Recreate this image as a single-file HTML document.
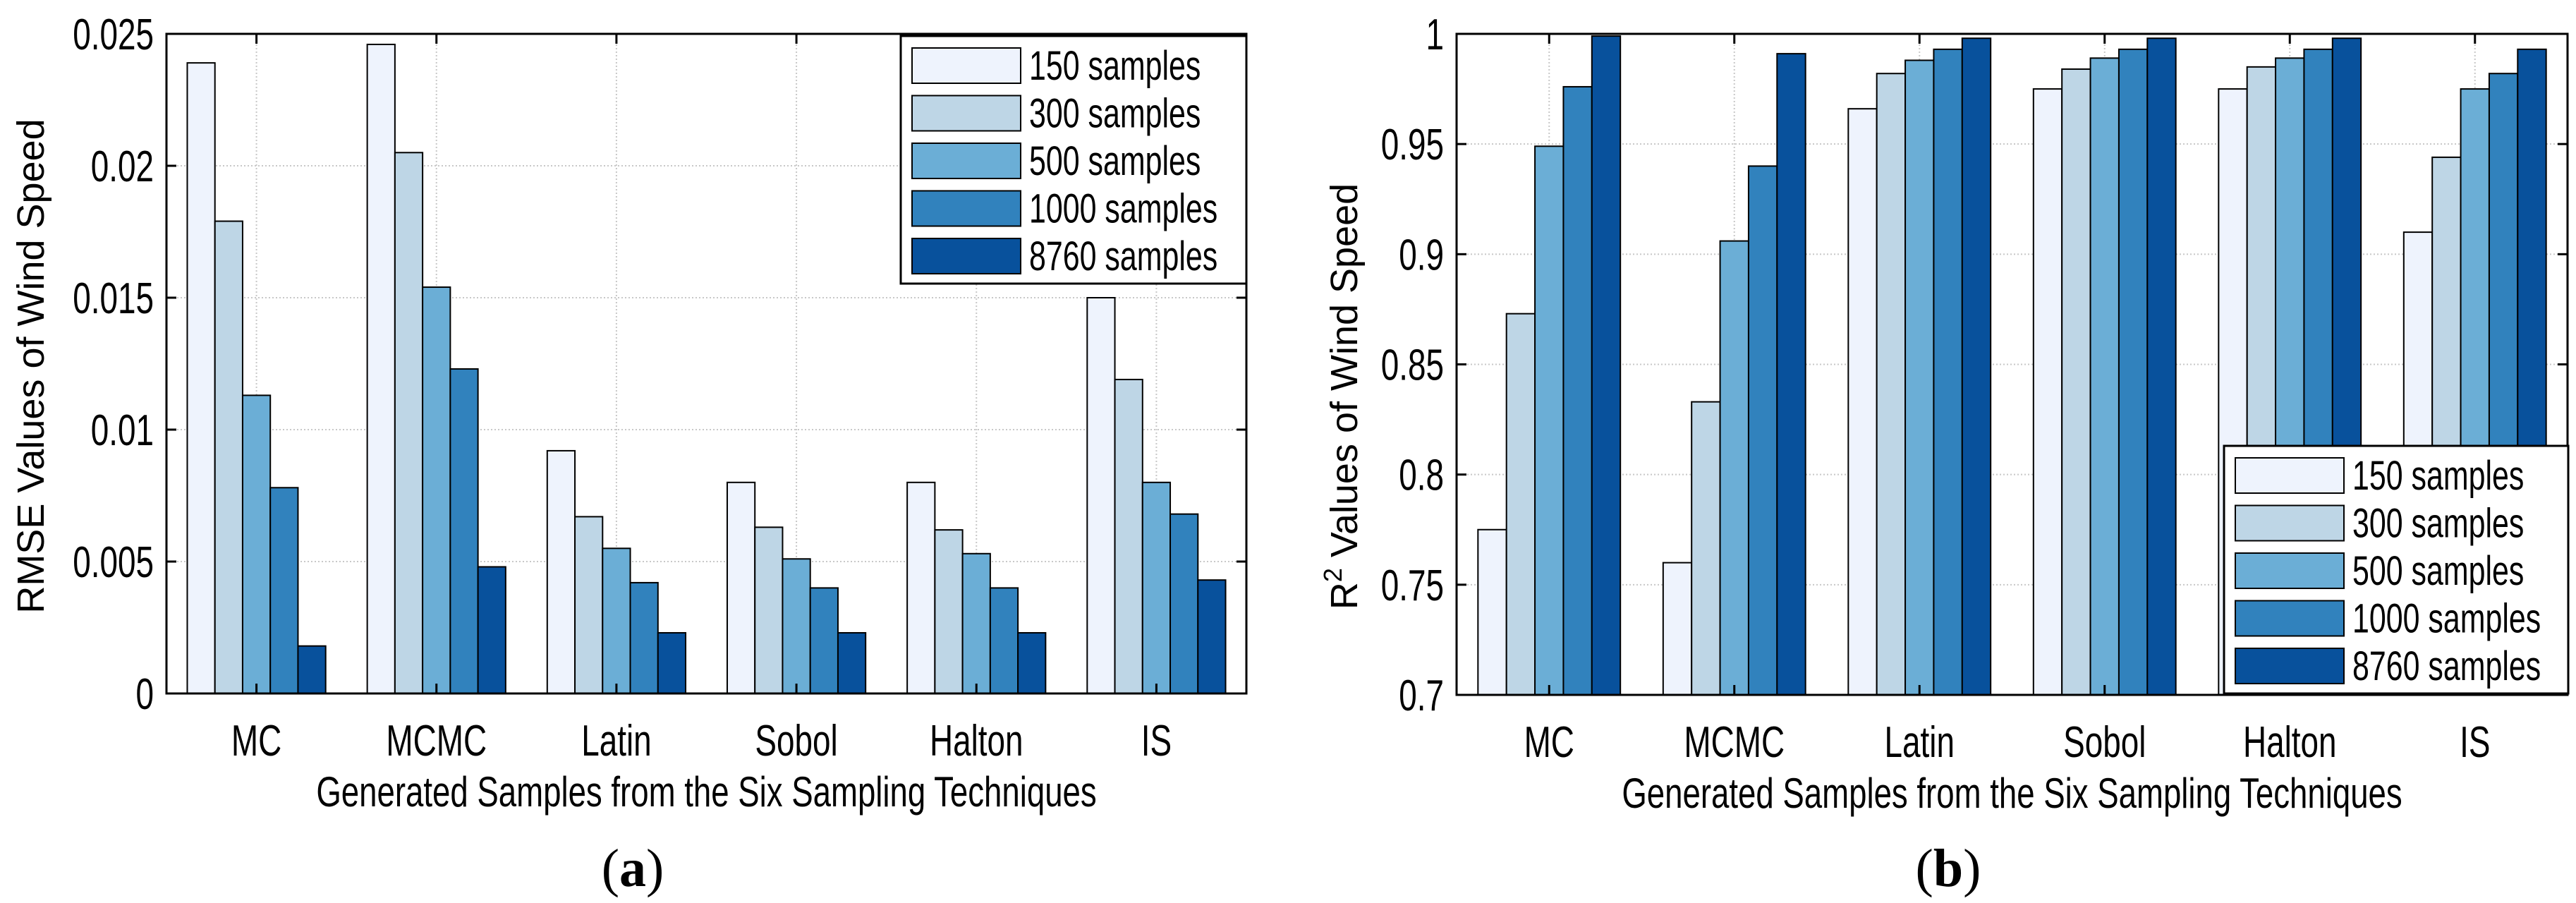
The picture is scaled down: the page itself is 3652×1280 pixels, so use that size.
<!DOCTYPE html>
<html><head><meta charset="utf-8"><style>
html,body{margin:0;padding:0;background:#fff}
svg{display:block}
text{font-family:"Liberation Sans",Arial,sans-serif;fill:#000}
</style></head><body>
<svg id="fig" width="3652" height="1280" viewBox="0 0 3652 1280" xmlns="http://www.w3.org/2000/svg">
<rect width="3652" height="1280" fill="#fff"/>
</svg>
<script>
const categories = ["MC","MCMC","Latin","Sobol","Halton","IS"];
const seriesNames = ["150 samples","300 samples","500 samples","1000 samples","8760 samples"];
const colors = ["#eef3fd","#bed6e6","#6baed6","#3182bd","#08519c"];
const rmse150 = [0.0239,0.0246,0.0092,0.0080,0.0080,0.0150];
const rmse300 = [0.0179,0.0205,0.0067,0.0063,0.0062,0.0119];
const rmse500 = [0.0113,0.0154,0.0055,0.0051,0.0053,0.0080];
const rmse1000 = [0.0078,0.0123,0.0042,0.0040,0.0040,0.0068];
const rmse8760 = [0.0018,0.0048,0.0023,0.0023,0.0023,0.0043];
const r2_150 = [0.775,0.760,0.966,0.975,0.975,0.910];
const r2_300 = [0.873,0.833,0.982,0.984,0.985,0.944];
const r2_500 = [0.949,0.906,0.988,0.989,0.989,0.975];
const r2_1000 = [0.976,0.940,0.993,0.993,0.993,0.982];
const r2_8760 = [0.999,0.991,0.998,0.998,0.998,0.993];
const rmseTicks = [0,0.005,0.01,0.015,0.02,0.025];
const rmseTickLabels = ["0","0.005","0.01","0.015","0.02","0.025"];
const r2Ticks = [0.7,0.75,0.8,0.85,0.9,0.95,1];
const r2TickLabels = ["0.7","0.75","0.8","0.85","0.9","0.95","1"];

const NS="http://www.w3.org/2000/svg";
const svg=document.getElementById('fig');
function mk(tag,attrs,parent){const e=document.createElementNS(NS,tag);for(const k in attrs)e.setAttribute(k,attrs[k]);(parent||svg).appendChild(e);return e;}
function txt(str,x,y,size,anchor,sx,parent){
  const t=mk('text',{x:0,y:0,'font-size':size,'text-anchor':anchor,transform:`translate(${x},${y}) scale(${sx},1)`},parent);
  t.textContent=str;return t;
}

function drawPanel(p){
  const g=mk('g',{});
  
  
  const L=p.left,R=p.right,T=p.top,B=p.bottom;
  const ys=v=>B-(v-p.ymin)/(p.ymax-p.ymin)*(B-T);
  const gw=(R-L)/categories.length;
  const xc=i=>L+gw*(i+0.5);
  p.ticks.forEach(v=>{const y=ys(v);
    const l=mk('line',{x1:L,x2:R,y1:y,y2:y,stroke:'#c8c8c8','stroke-width':2,'stroke-dasharray':'2,3'},g);
    
    
  });
  categories.forEach((c,i)=>{
    const l=mk('line',{x1:xc(i),x2:xc(i),y1:T,y2:B,stroke:'#c8c8c8','stroke-width':2,'stroke-dasharray':'2,3'},g);
    
    
  });
  const bw=gw*0.769/5;
  p.series.forEach((arr,s)=>{
    arr.forEach((v,i)=>{
      const x=xc(i)-gw*0.769/2+s*bw;
      const y=ys(v);
      const r=mk('rect',{x:x,y:y,width:bw,height:B-y,fill:colors[s],stroke:'#000','stroke-width':2},g);
      
      
    });
  });
  const box=mk('rect',{x:L,y:T,width:R-L,height:B-T,fill:'none',stroke:'#000','stroke-width':3},g);
  
  
  p.ticks.forEach((v,k)=>{const y=ys(v);
    mk('line',{x1:L,x2:L+14,y1:y,y2:y,stroke:'#000','stroke-width':3},g);
    mk('line',{x1:R,x2:R-14,y1:y,y2:y,stroke:'#000','stroke-width':3},g);
    const t=txt(p.tickLabels[k],L-18,y+22,62,'end',0.74,g);
    
    
  });
  categories.forEach((c,i)=>{
    mk('line',{x1:xc(i),x2:xc(i),y1:B,y2:B-14,stroke:'#000','stroke-width':3},g);
    mk('line',{x1:xc(i),x2:xc(i),y1:T,y2:T+14,stroke:'#000','stroke-width':3},g);
    const t=txt(c,xc(i),B+88,62,'middle',0.74,g);
    
    
  });
  const xl=txt('Generated Samples from the Six Sampling Techniques',(L+R)/2,B+160,60,'middle',0.76,g);
  
  
  const yl=mk('text',{x:0,y:0,'font-size':54,'text-anchor':'middle',transform:`translate(${p.ylx},${p.yly}) rotate(-90)`},g);
  yl.innerHTML=p.ylabel;
  
  
  const lg=mk('g',{},g);
  
  
  mk('rect',{x:p.lx,y:p.ly,width:p.lw,height:p.lh,fill:'#fff',stroke:'#000','stroke-width':3},lg);
  seriesNames.forEach((n,s)=>{
    const e=mk('g',{},lg);
    
    
    const ry=p.ly+17+s*67.5;
    mk('rect',{x:p.lx+16,y:ry,width:154,height:50,fill:colors[s],stroke:'#000','stroke-width':2},e);
    txt(n,p.lx+182,ry+45,58,'start',0.74,e);
  });
  const cap=mk('text',{x:p.capx,y:1256,'font-size':76,'text-anchor':'middle',style:'font-family:"Liberation Serif",serif'},g);
  cap.innerHTML='(<tspan font-weight="bold">'+p.cap+'</tspan>)';
  
  
}

drawPanel({name:'rmse-chart',left:236,right:1767,top:48,bottom:983,ymin:0,ymax:0.025,
  ticks:rmseTicks,tickLabels:rmseTickLabels,series:[rmse150,rmse300,rmse500,rmse1000,rmse8760],
  ylabel:'RMSE Values of Wind Speed',ylx:62,yly:519,lx:1277,ly:51,lw:490,lh:351,cap:'a',capx:897});
drawPanel({name:'r2-chart',left:2065,right:3640,top:48,bottom:985,ymin:0.7,ymax:1,
  ticks:r2Ticks,tickLabels:r2TickLabels,series:[r2_150,r2_300,r2_500,r2_1000,r2_8760],
  ylabel:'R<tspan dy="-22" font-size="36">2</tspan><tspan dy="22"> Values of Wind Speed</tspan>',ylx:1924,yly:562,lx:3153,ly:632,lw:488,lh:351,cap:'b',capx:2762});
</script>
</body></html>
